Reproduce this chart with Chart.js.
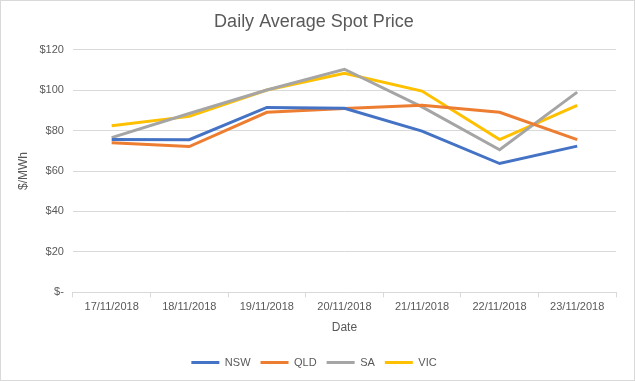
<!DOCTYPE html>
<html>
<head>
<meta charset="utf-8">
<script src="https://cdn.jsdelivr.net/npm/chart.js@4/dist/chart.umd.min.js"></script>
<style>
html,body{margin:0;padding:0;background:#fff;}
#wrap{position:absolute;left:0;top:0;width:633px;height:379px;border:1px solid #D9D9D9;}
canvas{display:block;}
</style>
</head>
<body>
<div id="wrap"><canvas id="c" width="633" height="379"></canvas></div>
<script>
const categories = ["17/11/2018","18/11/2018","19/11/2018","20/11/2018","21/11/2018","22/11/2018","23/11/2018"];
const nsw = [75.6, 75.5, 91.4, 91.0, 79.7, 63.7, 72.3];
const qld = [74.0, 72.1, 89.0, 90.9, 92.5, 89.0, 75.5];
const sa  = [76.5, 88.4, 100.0, 110.3, 91.7, 70.5, 99.0];
const vic = [82.4, 87.0, 100.0, 108.3, 99.5, 75.5, 92.4];
const yTicks = [0, 20, 40, 60, 80, 100, 120];

const txt = '#595959';
const grid = '#D9D9D9';
const fam = '"Liberation Sans", Arial, sans-serif';

function ds(label, data, color){
  return {label, data, borderColor:color, backgroundColor:color, borderWidth:3,
    pointRadius:0, pointHoverRadius:0, tension:0, fill:false};
}

new Chart(document.getElementById('c'), {
  type:'line',
  data:{labels:categories, datasets:[
    ds('NSW', nsw, '#4472C4'),
    ds('QLD', qld, '#ED7D31'),
    ds('SA', sa, '#A5A5A5'),
    ds('VIC', vic, '#FFC000')
  ]},
  options:{
    responsive:false, animation:false,
    layout:{padding:{left:11, right:18, top:6, bottom:2}},
    plugins:{
      title:{display:true, text:'Daily Average Spot Price', color:txt,
        font:{family:fam, size:18, weight:'normal'}, padding:{top:4, bottom:17}},
      legend:{position:'bottom', labels:{color:txt, font:{family:fam, size:11},
        boxWidth:28, boxHeight:3, padding:10,
        generateLabels:(chart)=>Chart.defaults.plugins.legend.labels.generateLabels(chart).map(l=>{l.lineWidth=0;return l;})}},
      tooltip:{enabled:false}
    },
    scales:{
      x:{offset:true,
        grid:{offset:true, drawOnChartArea:false, drawTicks:true, tickLength:5, color:grid},
        border:{color:grid},
        ticks:{color:txt, font:{family:fam, size:11}, maxRotation:0, padding:3},
        title:{display:true, text:'Date', color:txt, font:{family:fam, size:12}, padding:{top:4,bottom:12}}
      },
      y:{min:0, max:120,
        afterBuildTicks:(s)=>{s.ticks = yTicks.map(v=>({value:v}));},
        grid:{color:grid, drawTicks:false},
        border:{display:false},
        ticks:{color:txt, font:{family:fam, size:11}, padding:9,
          callback:(v)=> v===0 ? '$-' : '$'+v},
        title:{display:true, text:'$/MWh', color:txt, font:{family:fam, size:12}, padding:{top:4, bottom:0}}
      }
    }
  }
});
</script>
</body>
</html>
